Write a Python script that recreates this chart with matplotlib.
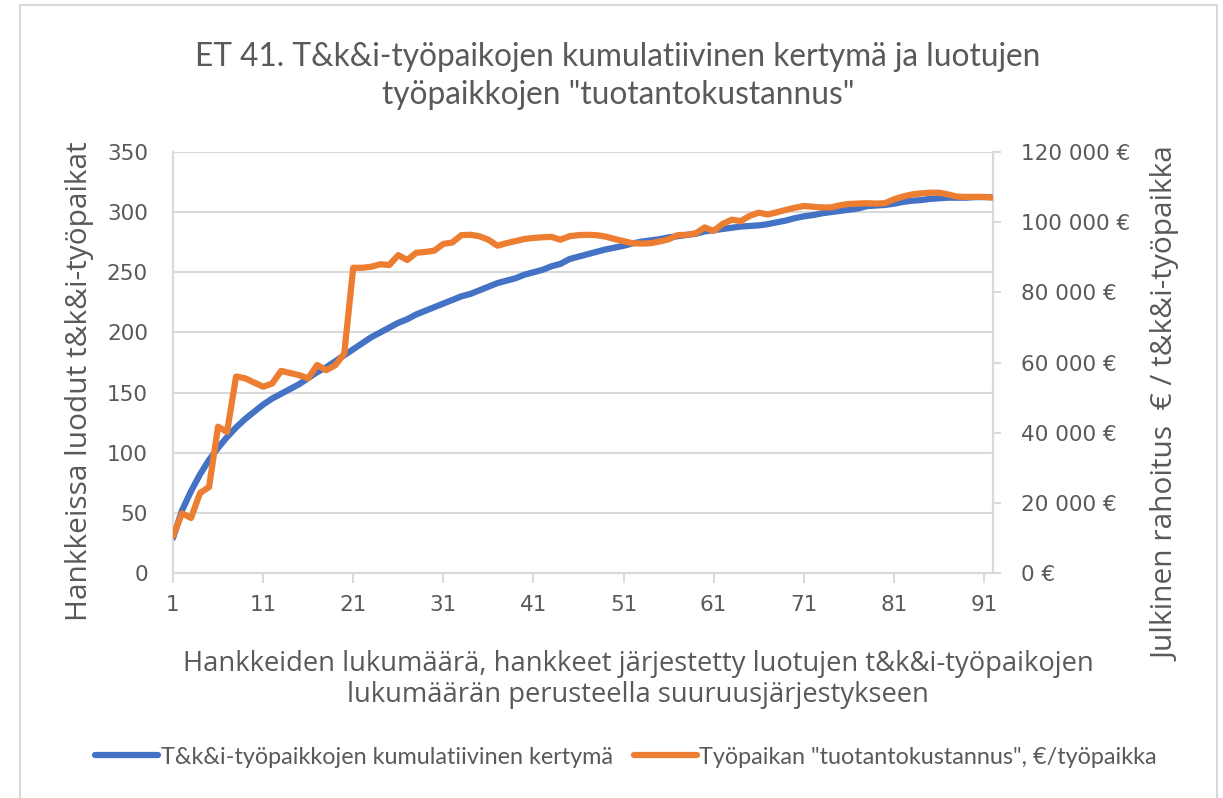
import matplotlib
matplotlib.use("Agg")
import matplotlib.pyplot as plt
from matplotlib.ticker import FuncFormatter, MultipleLocator
from matplotlib.patches import Rectangle

# hankkeet järjestyksessä (1..92)
hankkeet = list(range(1, 93))

# kumulatiivinen t&k&i-työpaikkojen kertymä (vasen akseli)
kertyma = [29, 52, 68, 82, 94, 104, 113, 121, 128, 134,
           140, 145, 149, 153, 157, 162, 167, 171, 176, 181,
           186, 191, 196, 200, 204, 208, 211, 215, 218, 221,
           224, 227, 230, 232, 235, 238, 241, 243, 245, 248,
           250, 252, 255, 257, 261, 263, 265, 267, 269, 270.5,
           272, 274, 275.5, 276.5, 277.5, 279, 280, 281, 282, 284,
           285, 286, 287, 288, 288.5, 289, 290, 291.5, 293, 295,
           296.5, 297.5, 299, 300, 301, 302, 303, 305, 305.5, 306,
           307, 308.5, 309.5, 310, 311, 311.5, 312, 312, 312, 312.5,
           312.5, 312.5]

# työpaikan "tuotantokustannus" €/työpaikka (oikea akseli)
kustannus = [10500, 17000, 15700, 22800, 24500, 41700, 40200, 56000, 55500, 54300,
             53100, 54000, 57600, 57000, 56400, 55500, 59300, 57800, 59200, 62500,
             87000, 87000, 87300, 88000, 87800, 90600, 89200, 91300, 91500, 91900,
             93800, 94200, 96300, 96400, 96000, 95000, 93300, 94000, 94600, 95200,
             95500, 95700, 95800, 95000, 96000, 96300, 96400, 96300, 95900, 95200,
             94600, 94000, 93900, 94000, 94500, 95100, 96300, 96400, 96800, 98500,
             97500, 99500, 100700, 100300, 101800, 102700, 102200, 102800, 103500, 104100,
             104600, 104400, 104200, 104200, 104800, 105200, 105300, 105400, 105300, 105400,
             106500, 107300, 107900, 108200, 108400, 108400, 107900, 107300, 107200, 107200,
             107200, 107000]

x_ticks = list(range(1, 92, 10))

otsikko = 'ET 41. T&k&i-työpaikojen kumulatiivinen kertymä ja luotujen\ntyöpaikkojen "tuotantokustannus"'
y_otsikko = 'Hankkeissa luodut t&k&i-työpaikat'
y2_otsikko = 'Julkinen rahoitus  € / t&k&i-työpaikka'
x_otsikko = ('Hankkeiden lukumäärä, hankkeet järjestetty luotujen t&k&i-työpaikojen\n'
             'lukumäärän perusteella suuruusjärjestykseen')
sarja1 = 'T&k&i-työpaikkojen kumulatiivinen kertymä'
sarja2 = 'Työpaikan "tuotantokustannus", €/työpaikka'

blue = '#4472C4'
orange = '#ED7D31'
txt = '#595959'
grid = '#D9D9D9'

plt.rcParams['font.family'] = ['Open Sans', 'DejaVu Sans']
tick_font = {'family': 'DejaVu Sans', 'size': 15.5}

fig = plt.figure(figsize=(12.23, 7.98), dpi=100)
fig.patches.append(Rectangle((20 / 1223, -0.1), 1197 / 1223, 1.1 - 5 / 798,
                             transform=fig.transFigure, fill=False,
                             edgecolor=grid, linewidth=1.5))

ax = fig.add_axes([173 / 1223, 1 - 573 / 798, 820 / 1223, 421 / 798])
ax2 = ax.twinx()

l1, = ax.plot(hankkeet, kertyma, color=blue, linewidth=4.5, solid_capstyle='round',
              solid_joinstyle='round', zorder=3)
l2, = ax2.plot(hankkeet, kustannus, color=orange, linewidth=4.5, solid_capstyle='round',
               solid_joinstyle='round', zorder=3)

ax.set_xlim(1, 92)
ax.set_ylim(0, 350)
ax2.set_ylim(0, 120000)
ax.set_xticks(x_ticks)
ax.yaxis.set_major_locator(MultipleLocator(50))
ax2.yaxis.set_major_locator(MultipleLocator(20000))
ax2.yaxis.set_major_formatter(FuncFormatter(
    lambda v, p: '0 €' if v == 0 else f'{int(v):,} €'.replace(',', ' ')))

ax.grid(axis='y', color=grid, linewidth=1.5)
ax.set_axisbelow(True)

for a in (ax, ax2):
    a.spines['top'].set_visible(False)
    for s in ('left', 'right', 'bottom'):
        a.spines[s].set_color(grid)
        a.spines[s].set_linewidth(1.5)

ax.tick_params(axis='y', length=0, labelcolor=txt, pad=18)
ax.tick_params(axis='x', length=7, width=1.5, color=grid, labelcolor=txt, pad=9)
ax2.tick_params(axis='y', length=6, width=1.5, color=grid, labelcolor=txt, pad=14)
for lab in ax.get_xticklabels() + ax.get_yticklabels() + ax2.get_yticklabels():
    lab.set_fontproperties(tick_font)

ax.set_ylabel(y_otsikko, fontsize=21.5, color=txt)
ax.yaxis.set_label_coords(-0.096, 0.456)
ax2.set_ylabel(y2_otsikko, fontsize=21.5, color=txt)
ax2.yaxis.set_label_coords(1.194, 0.401)
ax.set_xlabel(x_otsikko, fontsize=19.7, color=txt, linespacing=1.15)
ax.xaxis.set_label_coords(0.567, -0.183)

fig.text(618 / 1223, 1 - 76 / 798, otsikko, ha='center', va='center',
         fontsize=22.8, color=txt, family=['Lato', 'DejaVu Sans'], linespacing=1.3)

fig.legend([l1, l2], [sarja1, sarja2], loc='center', bbox_to_anchor=(626 / 1223, 1 - 757 / 798),
           ncol=2, frameon=False, prop={'family': ['Lato', 'DejaVu Sans'], 'size': 16.8},
           labelcolor=txt, handlelength=2.7, handletextpad=0.1, columnspacing=0.9)

fig.savefig('out.png', dpi=100)
